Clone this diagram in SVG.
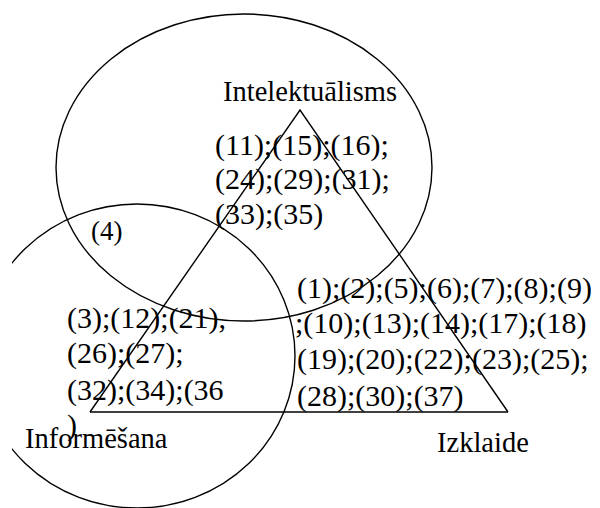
<svg xmlns="http://www.w3.org/2000/svg" width="600" height="508" viewBox="0 0 600 508">
<style>
.sh{fill:none;stroke:#000;stroke-width:1.4}
</style>
<defs>
<clipPath id="crop"><rect x="12" y="0" width="588" height="508"/></clipPath>
</defs>
<rect width="600" height="508" fill="#fff"/>
<g id="shapes">
<ellipse id="circle-intelektualisms" class="sh" cx="244" cy="167.5" rx="188" ry="153.5"/>
<ellipse id="circle-informesana" class="sh" cx="137" cy="356" rx="158" ry="152" clip-path="url(#crop)"/>
<g id="triangle">
<polyline class="sh" points="90,412 300,110 508,412"/>
<line class="sh" x1="90" y1="412" x2="508" y2="412" stroke-width="2"/>
</g>
</g>
<g id="labels" font-family="'Liberation Serif', serif" font-size="28.5" fill="#000">
<text id="label-intelektualisms" x="223" y="101">Intelektuālisms</text>
<text id="label-informesana" x="25" y="448">Informēšana</text>
<text id="label-izklaide" x="437" y="452">Izklaide</text>
</g>
<g id="numbers" font-family="'Liberation Serif', serif" font-size="30" fill="#000">
<g id="numbers-intelektualisms">
<text x="215" y="155">(11);(15);(16);</text>
<text x="215" y="189">(24);(29);(31);</text>
<text x="215" y="224">(33);(35)</text>
</g>
<g id="numbers-overlap">
<text x="91" y="240" font-size="27">(4)</text>
</g>
<g id="numbers-informesana">
<text x="67" y="328">(3);(12);(21),</text>
<text x="67" y="363">(26);(27);</text>
<text x="67" y="400">(32);(34);(36</text>
<text x="67" y="435">)</text>
</g>
<g id="numbers-izklaide">
<text x="297" y="298">(1);(2);(5);(6);(7);(8);(9)</text>
<text x="295" y="333">;(10);(13);(14);(17);(18)</text>
<text x="297" y="369">(19);(20);(22);(23);(25);</text>
<text x="297" y="406">(28);(30);(37)</text>
</g>
</g>
</svg>
